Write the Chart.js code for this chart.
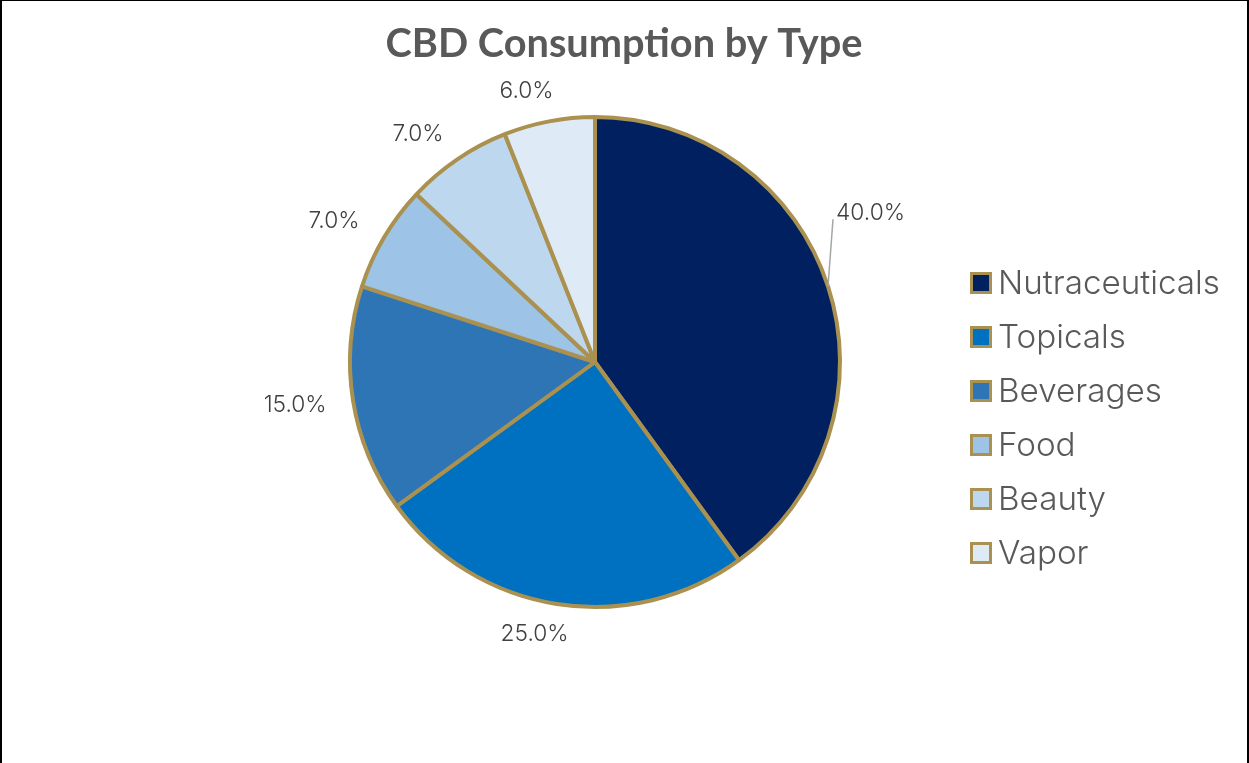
<!DOCTYPE html>
<html><head><meta charset="utf-8">
<script src="https://cdn.jsdelivr.net/npm/chart.js@4.4.1/dist/chart.umd.min.js"></script>
<style>
html,body{margin:0;padding:0;background:#fff;overflow:hidden}
#c{position:absolute;left:0;top:0}
#frame{position:absolute;left:0;top:0;width:1249px;height:763px;box-sizing:border-box;border-left:2px solid #000;border-top:1px solid #000;border-right:2px solid #000;pointer-events:none}
</style></head><body>
<canvas id="c" width="1249" height="763"></canvas>
<div id="frame"></div>
<script>
const chartTitle = 'CBD Consumption by Type';
const categories = ['Nutraceuticals', 'Topicals', 'Beverages', 'Food', 'Beauty', 'Vapor'];
const shares = [40, 25, 15, 7, 7, 6];
const sliceColors = ['#002060', '#0070C0', '#2E75B6', '#9DC3E6', '#BDD7EE', '#DEEBF7'];
const borderGold = '#AA914F';

const TITLE_FONT = 'Lato, "Open Sans", sans-serif';
const TEXT_FONT = 'Inter, Lato, sans-serif';
const TEXT_WEIGHT = '300';
const leaderLabels = { 0: { dx: 5, dy: -67 } };

function fitFont(ctx, text, weight, family, targetWidth) {
  ctx.font = weight + ' 100px ' + family;
  const w = ctx.measureText(text).width;
  return 100 * targetWidth / w;
}

const overlay = {
  id: 'overlay',
  afterDraw(chart) {
    const ctx = chart.ctx;
    const meta = chart.getDatasetMeta(0);
    ctx.save();
    // title
    const ts = fitFont(ctx, chartTitle, 'bold', TITLE_FONT, 477);
    ctx.font = 'bold ' + ts + 'px ' + TITLE_FONT;
    ctx.fillStyle = '#595959';
    ctx.textAlign = 'center';
    ctx.textBaseline = 'alphabetic';
    ctx.fillText(chartTitle, 624, 57);

    // data labels
    const ls = fitFont(ctx, '40.0%', TEXT_WEIGHT, TEXT_FONT, 69);
    ctx.font = TEXT_WEIGHT + ' ' + ls + 'px ' + TEXT_FONT;
    ctx.fillStyle = '#404040';
    const total = shares.reduce((a, b) => a + b, 0);
    meta.data.forEach((arc, i) => {
      const p = arc.getProps(['x', 'y', 'startAngle', 'endAngle', 'outerRadius'], true);
      const a = (p.startAngle + p.endAngle) / 2;
      const txt = (shares[i] / total * 100).toFixed(1) + '%';
      const w = ctx.measureText(txt).width;
      if (leaderLabels[i]) {
        const mx = p.x + p.outerRadius * Math.cos(a);
        const my = p.y + p.outerRadius * Math.sin(a);
        const lx = mx + leaderLabels[i].dx, ly = my + leaderLabels[i].dy;
        ctx.strokeStyle = '#A6A6A6';
        ctx.lineWidth = 1.5;
        ctx.beginPath(); ctx.moveTo(mx, my); ctx.lineTo(lx, ly); ctx.stroke();
        ctx.textAlign = 'left';
        ctx.textBaseline = 'middle';
        ctx.fillText(txt, lx + 3, ly - 6);
      } else {
        const r = p.outerRadius + 25;
        const ax = p.x + r * Math.cos(a), ay = p.y + r * Math.sin(a);
        const cx = ax + w / 2 * Math.cos(a) - 13 * Math.abs(Math.sin(a));
        const cy = ay + 6 * Math.sin(a);
        ctx.textAlign = 'center';
        ctx.textBaseline = 'middle';
        ctx.fillText(txt, cx, cy);
      }
    });

    // legend
    const gs = fitFont(ctx, categories[0], TEXT_WEIGHT, TEXT_FONT, 222);
    ctx.font = TEXT_WEIGHT + ' ' + gs + 'px ' + TEXT_FONT;
    ctx.textAlign = 'left';
    ctx.textBaseline = 'alphabetic';
    categories.forEach((c, i) => {
      const cy = 283 + 54 * i;
      ctx.fillStyle = borderGold;
      ctx.fillRect(970, cy - 11, 22, 22);
      ctx.fillStyle = sliceColors[i];
      ctx.fillRect(973, cy - 8, 16, 16);
      ctx.fillStyle = '#595959';
      ctx.fillText(c, 998, cy + 11);
    });
    ctx.restore();
  }
};

new Chart(document.getElementById('c'), {
  type: 'pie',
  data: {
    labels: categories,
    datasets: [{
      data: shares,
      backgroundColor: sliceColors,
      borderColor: borderGold,
      borderWidth: 4,
      borderAlign: 'center'
    }]
  },
  options: {
    responsive: false,
    animation: false,
    rotation: 0,
    radius: 245,
    layout: { padding: { left: 100, right: 159, top: 100, bottom: 139 } },
    plugins: { legend: { display: false }, title: { display: false }, tooltip: { enabled: false } }
  },
  plugins: [overlay]
});
</script>
</body></html>
